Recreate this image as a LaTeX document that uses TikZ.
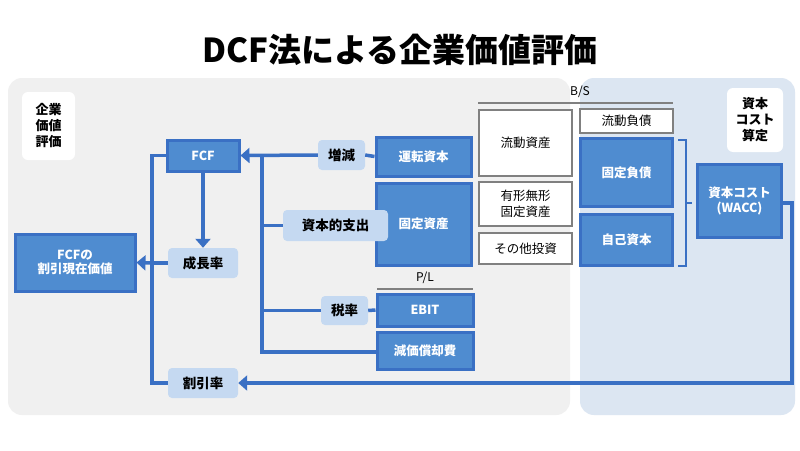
\documentclass[tikz,border=0pt]{standalone}
\usepackage{fontspec}
\setmainfont{Noto Sans CJK JP}
\usetikzlibrary{arrows.meta}
\definecolor{dblue}{RGB}{79,140,208}
\definecolor{bline}{RGB}{58,112,196}
\definecolor{lblue}{RGB}{197,217,241}
\definecolor{pgray}{RGB}{240,240,240}
\definecolor{pblue}{RGB}{220,230,242}
\definecolor{bgray}{RGB}{128,128,128}
\tikzset{
  dark/.style={draw=bline, line width=3pt, fill=dblue, text=white, font=\bfseries\fontsize{12.5}{14.5}\selectfont, align=center, inner sep=0pt},
  light/.style={fill=lblue, rounded corners=4pt, font=\bfseries\fontsize{13.5}{15}\selectfont, inner sep=0pt},
  wbox/.style={draw=bgray, line width=1.6pt, fill=white, font=\fontsize{12.5}{16}\selectfont, align=center, inner sep=0pt},
  tag/.style={fill=white, rounded corners=6pt, font=\bfseries\fontsize{13}{16}\selectfont, align=center, inner sep=0pt},
  flow/.style={draw=bline, line width=3.5pt},
  arr/.style={flow, -{Triangle[width=15pt,length=9pt]}}
}
\begin{document}
\begin{tikzpicture}[x=1pt, y=-1pt]
  \useasboundingbox (0,0) rectangle (800,450);
  \fill[white] (0,0) rectangle (800,450);

  % panels
  \fill[pgray, rounded corners=14pt] (8,78) rectangle (570,415);
  \fill[pblue, rounded corners=14pt] (580,78) rectangle (795,415);
  \node[font=\bfseries\fontsize{33}{36}\selectfont] (title) at (400,50) {DCF法による企業価値評価};

  \node[tag, minimum width=53pt, minimum height=68pt] (kigyo) at (48.5,126) {企業\\価値\\評価};
  \node[tag, minimum width=56pt, minimum height=64pt] (shihon) at (755,120) {資本\\コスト\\算定};

  % left side
  \node[dark, minimum width=72pt, minimum height=31pt] (fcf) at (203,155.5) {FCF};
  \node[light, minimum width=70pt, minimum height=30pt] (seicho) at (203,263) {成長率};
  \node[light, minimum width=70pt, minimum height=30pt] (waribiki) at (203,383) {割引率};
  \node[dark, minimum width=120pt, minimum height=57pt] (pv) at (75,262.5) {FCFの\\割引現在価値};

  \node[light, minimum width=47pt, minimum height=30pt] (zogen) at (341.5,155) {増減};
  \node[dark, minimum width=95pt, minimum height=39pt] (unten) at (423.5,156.5) {運転資本};
  \node[dark, minimum width=95pt, minimum height=82pt] (kotei) at (423.5,224) {固定資産};
  \node[light, minimum width=105pt, minimum height=31pt] (capex) at (335.5,225.5) {資本的支出};
  \node[font=\fontsize{12}{14}\selectfont] (pl) at (425,278) {P/L};
  \node[light, minimum width=47pt, minimum height=29pt] (zei) at (344.5,310.5) {税率};
  \node[dark, minimum width=96pt, minimum height=32pt] (ebit) at (425,310) {EBIT};
  \node[dark, minimum width=96pt, minimum height=37pt] (gensho) at (425,350.5) {減価償却費};
  \draw[bgray, line width=1.5pt] (377,289) -- (473,289);

  % B/S
  \node[font=\fontsize{12}{14}\selectfont] (bs) at (580,92) {B/S};
  \draw[bgray, line width=1.5pt] (478,103) -- (673,103);
  \node[wbox, minimum width=93pt, minimum height=66pt] (ryudoA) at (525.5,143) {流動資産};
  \node[wbox, minimum width=93pt, minimum height=44pt] (yukei) at (525.5,204) {有形無形\\固定資産};
  \node[wbox, minimum width=93pt, minimum height=31pt] (sonota) at (525.5,248.5) {その他投資};
  \node[wbox, minimum width=93pt, minimum height=24pt] (ryudoL) at (626.5,121) {流動負債};
  \node[dark, minimum width=92pt, minimum height=68pt] (koteiL) at (626.5,172.5) {固定負債};
  \node[dark, minimum width=92pt, minimum height=51pt] (jiko) at (626.5,240) {自己資本};
  \draw[bline, line width=2pt] (678,140) -- (686,140) -- (686,266) -- (678,266);
  \draw[bline, line width=2pt] (686,203) -- (692,203);
  \node[dark, minimum width=84pt, minimum height=73pt] (wacc) at (739.5,201) {資本コスト\\(WACC)};

  % connectors
  \draw[arr] (zogen.west) -- (fcf.east);
  \draw[flow] (zogen.east) -- (unten.west);
  \draw[flow] (262,155) -- (262,352) -- (gensho.west |- 0,352);
  \draw[flow] (262,225.5) -- (capex.west);
  \draw[flow] (262,310.5) -- (zei.west);
  \draw[flow] (zei.east) -- (ebit.west);
  \draw[arr] (fcf.south) -- (seicho.north);
  \draw[flow] (fcf.west) -- (152,155.5) -- (152,383) -- (waribiki.west);
  \draw[flow] (seicho.west) -- (152,263);
  \draw[arr] (152,263) -- (pv.east);
  \draw[arr] (wacc.east |- 0,203) -- (792,203) -- (792,383) -- (waribiki.east);
\end{tikzpicture}
\end{document}
